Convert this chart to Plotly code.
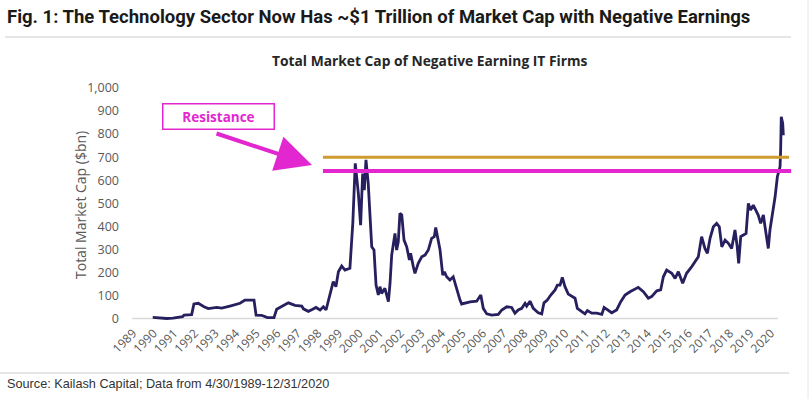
import plotly.graph_objects as go

# decimal-year positions (as placed on the chart's category axis) and values ($bn)
years = [1989.96, 1990.64, 1990.94, 1991.41, 1991.48, 1991.85, 1991.96, 1992.17, 1992.45, 1992.66,
         1993.07, 1993.31, 1993.71, 1994.20, 1994.44, 1994.88, 1994.98, 1995.25, 1995.53, 1995.85,
         1995.98, 1996.23, 1996.55, 1996.87, 1997.20, 1997.28, 1997.52, 1997.73, 1997.89, 1998.09,
         1998.25, 1998.38, 1998.54, 1998.73, 1998.86, 1998.98, 1999.14, 1999.30, 1999.54, 1999.68,
         1999.80, 1999.95, 2000.06, 2000.16, 2000.24, 2000.32, 2000.43, 2000.60, 2000.71, 2000.81,
         2000.92, 2001.00, 2001.08, 2001.24, 2001.41, 2001.49, 2001.57, 2001.73, 2001.81, 2001.89,
         2001.97, 2002.06, 2002.17, 2002.30, 2002.43, 2002.49, 2002.62, 2002.70, 2002.86, 2003.03,
         2003.19, 2003.35, 2003.51, 2003.64, 2003.71, 2003.81, 2003.92, 2004.05, 2004.13, 2004.24,
         2004.40, 2004.56, 2004.73, 2004.89, 2004.97, 2005.38, 2005.70, 2005.90, 2006.02, 2006.19,
         2006.43, 2006.75, 2006.92, 2007.16, 2007.40, 2007.56, 2007.72, 2007.89, 2008.05, 2008.13,
         2008.29, 2008.45, 2008.69, 2008.86, 2008.97, 2009.13, 2009.30, 2009.51, 2009.62, 2009.75,
         2009.86, 2009.99, 2010.15, 2010.32, 2010.48, 2010.59, 2010.80, 2010.96, 2011.08, 2011.29,
         2011.53, 2011.78, 2011.89, 2012.10, 2012.26, 2012.50, 2012.70, 2012.91, 2013.15, 2013.55,
         2013.80, 2014.04, 2014.20, 2014.45, 2014.64, 2014.77, 2014.93, 2015.18, 2015.34, 2015.50,
         2015.71, 2015.90, 2016.15, 2016.47, 2016.63, 2016.79, 2016.91, 2017.04, 2017.20, 2017.36,
         2017.49, 2017.61, 2017.77, 2017.93, 2018.09, 2018.25, 2018.36, 2018.43, 2018.53, 2018.66,
         2018.79, 2018.90, 2019.01, 2019.14, 2019.27, 2019.38, 2019.50, 2019.63, 2019.71, 2019.79,
         2019.87, 2019.95, 2020.08, 2020.20, 2020.31, 2020.39, 2020.44, 2020.47, 2020.50, 2020.57,
         2020.60]
market_cap = [5, 0, 2, 8, 15, 17, 63, 66, 51, 43,
              48, 45, 54, 66, 80, 80, 15, 14, 4, 4,
              40, 51, 68, 57, 54, 42, 31, 40, 48, 37,
              51, 37, 95, 160, 138, 203, 228, 210, 218, 413,
              673, 543, 405, 629, 557, 688, 586, 311, 297, 145,
              102, 138, 109, 131, 73, 153, 275, 369, 297, 333,
              456, 449, 340, 311, 254, 283, 225, 196, 239, 268,
              275, 297, 348, 355, 395, 355, 297, 188, 203, 181,
              167, 181, 124, 80, 63, 72, 75, 102, 44, 20,
              15, 18, 37, 51, 48, 23, 37, 44, 66, 54,
              75, 44, 25, 20, 68, 80, 102, 124, 145, 145,
              178, 138, 106, 95, 88, 44, 29, 20, 34, 23,
              23, 18, 48, 34, 25, 37, 73, 102, 116, 135,
              116, 88, 95, 120, 124, 181, 210, 196, 174, 203,
              153, 196, 225, 268, 355, 304, 283, 348, 398, 413,
              398, 311, 340, 326, 304, 384, 311, 239, 355, 362,
              369, 499, 470, 492, 470, 449, 413, 449, 398, 340,
              304, 384, 456, 528, 615, 651, 658, 730, 875, 846,
              795]

tick_years = list(range(1989, 2021))
tick_labels = [str(y) for y in tick_years]
y_ticks = list(range(0, 1001, 100))
y_tick_labels = [f"{v:,}" for v in y_ticks]

resistance_upper = 700
resistance_lower = 640
resistance_start, resistance_end = 1998.23, 2020.88

NAVY = "#27205e"
GOLD = "#cf9a2e"
MAGENTA = "#e327d0"
GRAY_TXT = "#595959"

fig = go.Figure()
fig.add_trace(go.Scatter(x=years, y=market_cap, mode="lines",
                         line=dict(color=NAVY, width=2.8), hoverinfo="skip",
                         showlegend=False))

W, H = 812, 399
L, R, T, B = 120, 17, 86, 76
pw, ph = W - L - R, H - T - B

def px(xp):
    return (xp - L) / pw

def py(yp):
    return (H - B - yp) / ph

shapes = [
    # baseline (category axis line)
    dict(type="line", xref="x", yref="y", x0=1988.95, x1=2020.34, y0=0, y1=0,
         line=dict(color="#d9d9d9", width=1.5), layer="below"),
    dict(type="line", xref="x", yref="y", x0=resistance_start, x1=resistance_end,
         y0=resistance_upper, y1=resistance_upper, line=dict(color=GOLD, width=3)),
    dict(type="line", xref="x", yref="y", x0=resistance_start, x1=resistance_end + 0.1,
         y0=resistance_lower, y1=resistance_lower, line=dict(color=MAGENTA, width=4)),
    # frame lines of the figure
    dict(type="line", xref="paper", yref="paper", x0=px(5), x1=px(791), y0=py(37), y1=py(37),
         line=dict(color="#dcdcdc", width=1.5)),
    dict(type="line", xref="paper", yref="paper", x0=px(0), x1=px(789), y0=py(373), y1=py(373),
         line=dict(color="#dcdcdc", width=1.5)),
    dict(type="line", xref="paper", yref="paper", x0=px(808), x1=px(808), y0=py(0), y1=py(399),
         line=dict(color="#e6e6e6", width=1)),
]

annotations = [
    dict(text="<b>Fig. 1: The Technology Sector Now Has ~$1 Trillion of Market Cap with Negative Earnings</b>",
         xref="paper", yref="paper", x=px(5), y=py(17), xanchor="left", yanchor="middle",
         showarrow=False,
         font=dict(family="Roboto, Liberation Sans, Arial", size=18.5, color="#1a1a1a")),
    dict(text="<b>Total Market Cap of Negative Earning IT Firms</b>",
         xref="paper", yref="paper", x=px(430), y=py(61), xanchor="center", yanchor="middle",
         showarrow=False, font=dict(family="Open Sans", size=13.8, color="#262626")),
    dict(text="Source: Kailash Capital; Data from 4/30/1989-12/31/2020",
         xref="paper", yref="paper", x=px(5), y=py(384), xanchor="left", yanchor="middle",
         showarrow=False, font=dict(family="Liberation Sans, Arial", size=12.7, color="#333333")),
    dict(text="Total Market Cap ($bn)", textangle=-90,
         xref="paper", yref="paper", x=px(80), y=py(205), xanchor="center", yanchor="middle",
         showarrow=False, font=dict(family="Open Sans", size=14, color=GRAY_TXT)),
    # arrow
    dict(text="", xref="paper", yref="paper", x=px(312), y=py(165), ax=-97, ay=-32,
         showarrow=True, arrowhead=2, arrowsize=1.8, arrowwidth=4, arrowcolor=MAGENTA),
    dict(text="<b>Resistance</b>", xref="paper", yref="paper", x=px(218), y=py(116),
         xanchor="center", yanchor="middle", showarrow=False,
         width=108, height=22, bordercolor=MAGENTA, borderwidth=1.5, borderpad=1,
         bgcolor="white", font=dict(family="Open Sans", size=13.5, color=MAGENTA)),
]

x0 = 1989 + (L - 133) / 20.58
x1 = 1989 + (W - R - 133) / 20.58
y_top = (318.5 - T) / 0.2305
y_bot = -(H - B - 318.5) / 0.2305

fig.update_layout(
    width=W, height=H,
    margin=dict(l=L, r=R, t=T, b=B, pad=0),
    paper_bgcolor="white", plot_bgcolor="white",
    xaxis=dict(range=[x0, x1], tickmode="array", tickvals=tick_years, ticktext=tick_labels,
               tickangle=-45, showgrid=False, zeroline=False, showline=False, ticks="",
               tickfont=dict(family="Open Sans", size=12, color=GRAY_TXT)),
    yaxis=dict(range=[y_bot, y_top], tickmode="array", tickvals=y_ticks, ticktext=y_tick_labels,
               showgrid=False, zeroline=False, showline=False, ticks="",
               tickfont=dict(family="Open Sans", size=12.5, color=GRAY_TXT)),
    shapes=shapes, annotations=annotations,
)

fig.write_html("out.html", config={"displayModeBar": False},
               post_script="document.body.style.margin='0';document.body.style.padding='0';")
